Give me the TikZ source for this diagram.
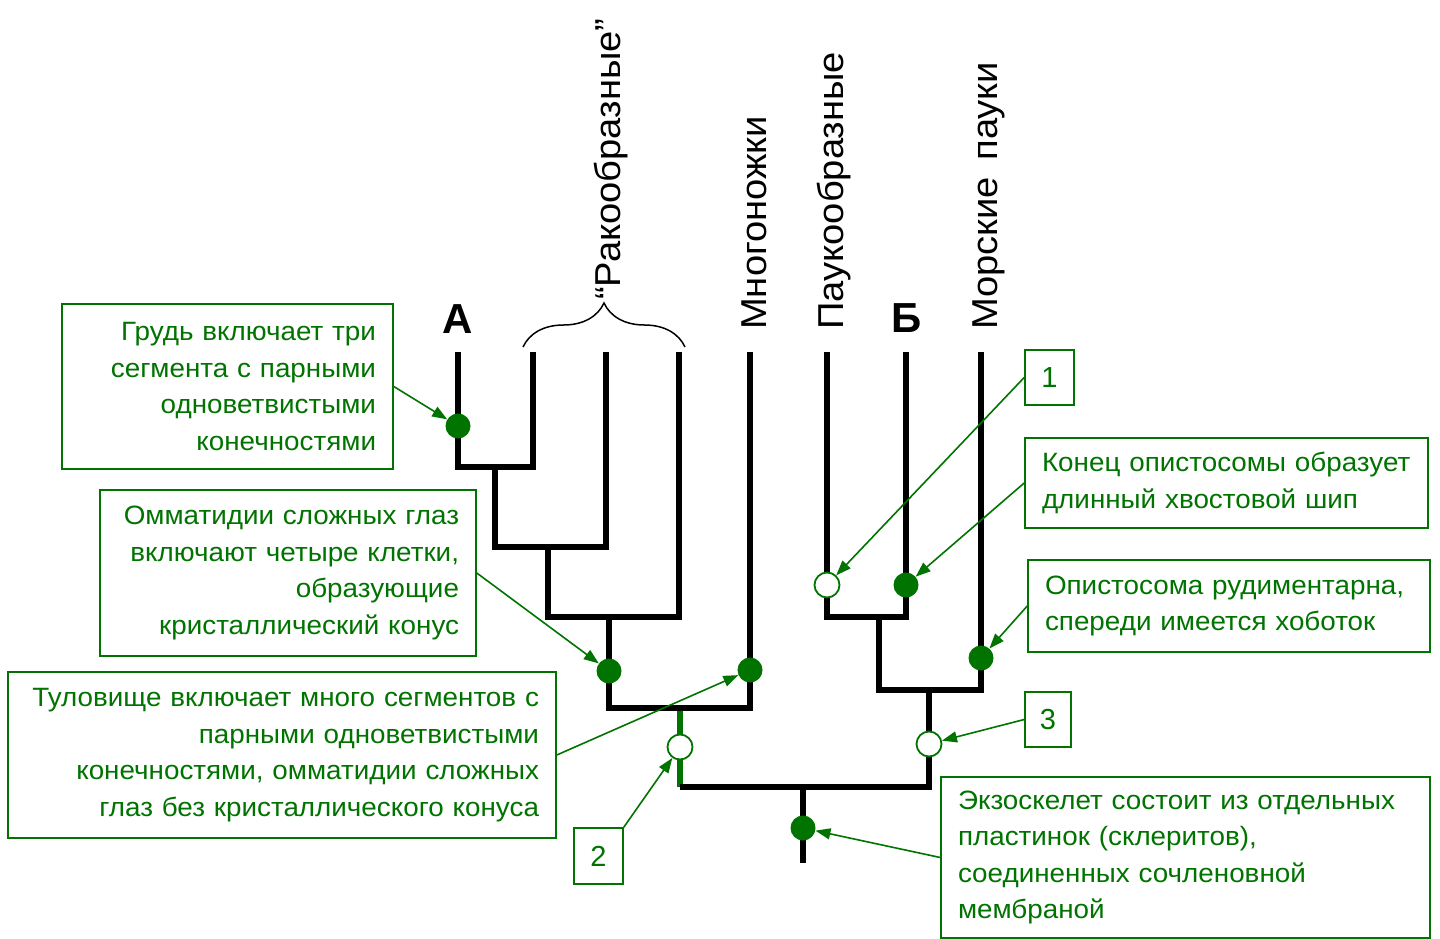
\documentclass[tikz,border=0pt]{standalone}
\usepackage{fontspec}
\setmainfont{Liberation Sans}
\newfontfamily\notefont[FakeStretch=1.05]{Liberation Sans}
\newfontfamily\labfont[FakeStretch=1.06]{Liberation Sans}
\usetikzlibrary{arrows.meta,decorations.pathreplacing}
\definecolor{dgreen}{RGB}{0,115,0}

\begin{document}
\begin{tikzpicture}[x=1pt,y=-1pt,line cap=butt,line join=miter,>={Triangle[length=15pt,width=11pt]},
  tree/.style={line width=6.5pt},
  dot/.style={circle,fill=dgreen,inner sep=0pt,minimum size=25pt},
  odot/.style={circle,draw=dgreen,line width=1.8pt,fill=white,inner sep=0pt,minimum size=25pt},
  note/.style={draw=dgreen,line width=1.6pt,text=dgreen,inner xsep=17pt,inner ysep=0pt,
    font=\notefont\fontsize{26.5}{36.5}\selectfont},
  numbox/.style={draw=dgreen,line width=1.6pt,text=dgreen,inner sep=0pt,
    font=\fontsize{29}{30}\selectfont},
  taxon/.style={rotate=90,anchor=base west,inner sep=0pt,font=\labfont\fontsize{36}{36}\selectfont},
  letter/.style={anchor=base,inner sep=0pt,font=\bfseries\fontsize{42}{42}\selectfont},
  pointer/.style={->,draw=dgreen,line width=1.6pt}]
\useasboundingbox (0,0) rectangle (1440,939);
%\draw[help lines,step=100] (0,0) grid (1440,939);

% leaf tops
\coordinate (tA) at (458,352);
\coordinate (tR1) at (533,352);
\coordinate (tR2) at (606,352);
\coordinate (tR3) at (679,352);
\coordinate (tMyr) at (750,352);
\coordinate (tSpi) at (827,352);
\coordinate (tB) at (906,352);
\coordinate (tSea) at (981,352);

% tree
\draw[tree] (tA) -- ++(0,115) -| (tR1);
\draw[tree] (495,467) -- (495,547) -| (tR2);
\draw[tree] (548,547) -- (548,617) -| (tR3);
\draw[tree] (609,617) -- (609,708) -| (tMyr);
\draw[line width=6pt,dgreen] (680,711) -- (680,787);
\draw[tree] (680,787) -| (929,690);
\draw[tree] (tSpi) -- ++(0,265) -| (tB);
\draw[tree] (879,617) -- (879,690) -| (tSea);
\draw[tree] (803,787) -- (803,863);

% taxa
\node[letter] (lA) at (458,333) {А};
\node[letter] (lB) at (907,332) {Б};
\node[taxon] (lCrus) at (620,300) {“Ракообразные”};
\node[taxon] (lMyr) at (766,330) {Многоножки};
\node[taxon] (lSpi) at (843,330) {Паукообразные};
\node[taxon] (lSea) at (997,330) {Морские\hspace{0.45em}пауки};
\draw[decorate,decoration={brace,amplitude=44pt},line width=1.5pt] (523,347) -- (685,347);

% characters on branches
\node[dot] (dA) at (458,426) {};
\node[dot] (dCrus) at (609,671) {};
\node[dot] (dMyr) at (750,670) {};
\node[odot] (oTwo) at (680,747) {};
\node[odot] (oOne) at (827,585) {};
\node[dot] (dB) at (906,585) {};
\node[dot] (dSea) at (981,658) {};
\node[odot] (oThree) at (929,744) {};
\node[dot] (dRoot) at (803,828) {};

% notes
\node[note,text width=297pt,minimum height=165pt,align=right] (bChest) at (227.5,386.5)
  {Грудь включает три\\сегмента с парными\\одноветвистыми\\конечностями};
\node[note,text width=342pt,minimum height=166pt,align=right] (bOmma) at (288,573)
  {Омматидии сложных глаз\\включают четыре клетки,\\образующие\\кристаллический конус};
\node[note,text width=514pt,minimum height=166pt,align=right] (bTrunk) at (282,755)
  {Туловище включает много сегментов с\\парными одноветвистыми\\конечностями, омматидии сложных\\глаз без кристаллического конуса};
\node[numbox,minimum width=49pt,minimum height=56pt] (nTwo) at (598.5,856) {2};
\node[numbox,minimum width=49pt,minimum height=55pt] (nOne) at (1049.5,377.5) {1};
\node[note,text width=369pt,minimum height=90pt,align=left] (bTail) at (1226.5,483)
  {Конец опистосомы образует\\длинный хвостовой шип};
\node[note,text width=368pt,minimum height=92pt,align=left] (bOpis) at (1229,606)
  {Опистосома рудиментарна,\\спереди имеется хоботок};
\node[numbox,minimum width=46pt,minimum height=55pt] (nThree) at (1048,719.5) {3};
\node[note,text width=455pt,minimum height=161pt,align=left] (bExo) at (1185.5,857.5)
  {Экзоскелет состоит из отдельных\\пластинок (склеритов),\\соединенных сочленовной\\мембраной};

% pointers
\draw[pointer] (bChest.east) -- (dA);
\draw[pointer] (bOmma.east) -- (dCrus);
\draw[pointer] (bTrunk.east) -- (dMyr);
\draw[pointer] (nTwo.north east) -- (oTwo);
\draw[pointer] (nOne.west) -- (oOne);
\draw[pointer] (bTail.west) -- (dB);
\draw[pointer] (bOpis.west) -- (dSea);
\draw[pointer] (nThree.west) -- (oThree);
\draw[pointer] (bExo.west) -- (dRoot);
\end{tikzpicture}
\end{document}
